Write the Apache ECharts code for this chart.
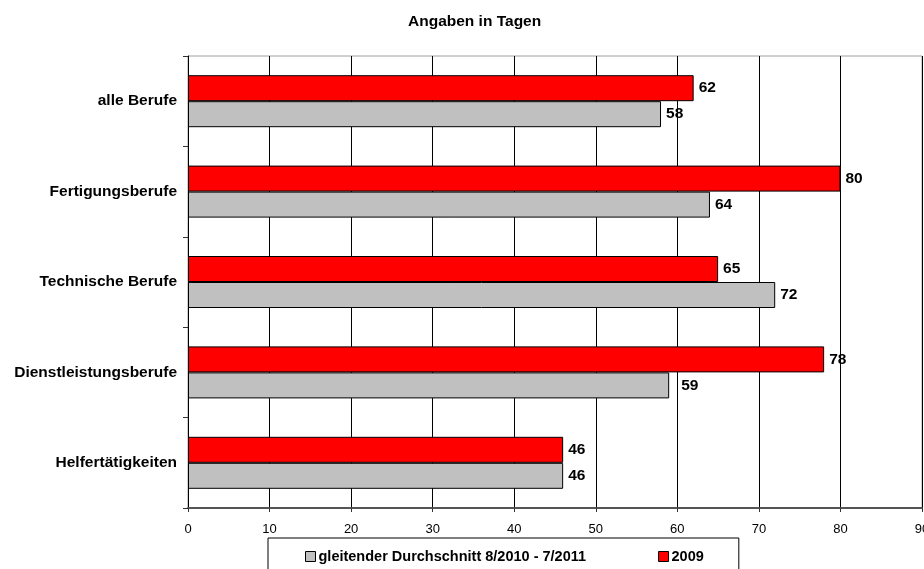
<!DOCTYPE html>
<html><head><meta charset="utf-8">
<script src="https://cdn.jsdelivr.net/npm/echarts@6/dist/echarts.min.js"></script>
<style>html,body{margin:0;padding:0;background:#fff}#c{width:924px;height:569px}</style>
</head><body><div id="c"></div>
<script>
const categories = ['alle Berufe', 'Fertigungsberufe', 'Technische Berufe', 'Dienstleistungsberufe', 'Helfertätigkeiten'];
const avgName = 'gleitender Durchschnitt 8/2010 - 7/2011';
const avgValues = [58, 64, 72, 59, 46];
const y2009Name = '2009';
const y2009Values = [62, 80, 65, 78, 46];
const xTicks = { min: 0, max: 90, interval: 10 };

const FONT = 'Liberation Sans, Arial, sans-serif';
const chart = echarts.init(document.getElementById('c'));
const label = { show: true, position: 'right', distance: 5, color: '#000', fontWeight: 'bold', fontSize: 15.5, fontFamily: FONT };
// Excel placed the "59" label a little further from its bar
const avgData = avgValues.map((v, i) => i === 3 ? { value: v, label: { distance: 12 } } : v);
chart.setOption({
  animation: false,
  title: { text: 'Angaben in Tagen', left: 403, top: 9, textStyle: { fontSize: 15.5, fontWeight: 'bold', color: '#000', fontFamily: FONT } },
  grid: { left: 188, right: 2, top: 56, bottom: 61, show: true, borderColor: '#a0a0a0', borderWidth: 1, outerBoundsMode: 'none', containLabel: false },
  legend: {
    data: [avgName, y2009Name], left: 268, top: 538, padding: [11, 35, 10, 37], itemGap: 72,
    itemWidth: 10, itemHeight: 10, icon: 'rect', borderColor: '#000', borderWidth: 1,
    itemStyle: { borderColor: '#000', borderWidth: 1 },
    textStyle: { fontSize: 14.5, fontWeight: 'bold', color: '#000', fontFamily: FONT, padding: [0, 0, 0, -2] }
  },
  xAxis: {
    type: 'value', min: xTicks.min, max: xTicks.max, interval: xTicks.interval,
    axisLine: { show: true, lineStyle: { color: '#555', width: 2 } },
    axisTick: { show: true, length: 4, lineStyle: { color: '#333' } },
    axisLabel: { color: '#000', fontSize: 13, fontFamily: FONT, margin: 15 },
    splitLine: { show: true, lineStyle: { color: '#000', width: 1 } }
  },
  yAxis: {
    type: 'category', data: categories, inverse: true,
    axisLine: { show: true, lineStyle: { color: '#000', width: 1 } },
    axisTick: { show: true, length: 5, lineStyle: { color: '#333' } },
    axisLabel: { color: '#000', fontSize: 15.5, fontWeight: 'bold', fontFamily: FONT, margin: 11 }
  },
  series: [
    { name: y2009Name, type: 'bar', data: y2009Values, barWidth: 26, barGap: '0%',
      itemStyle: { color: '#ff0000', borderColor: '#000', borderWidth: 1 }, label: label },
    { name: avgName, type: 'bar', data: avgData, barWidth: 26, barGap: '0%',
      itemStyle: { color: '#c0c0c0', borderColor: '#000', borderWidth: 1 }, label: label }
  ]
});
</script></body></html>
